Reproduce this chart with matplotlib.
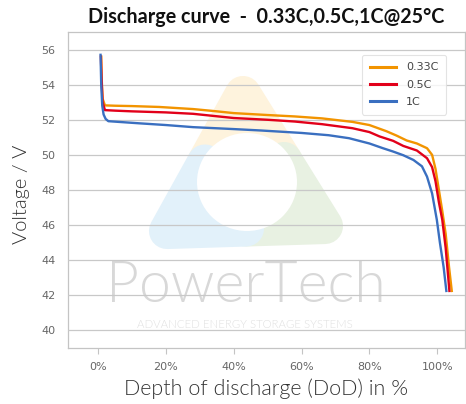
import matplotlib.pyplot as plt
from matplotlib.patches import Polygon, Ellipse

# data
dod_033 = [0.9, 1.0, 1.3, 2.0, 5, 10, 18, 28, 34, 40, 50, 58, 66, 75, 80, 85, 88, 91, 94, 97,
           98.5, 99.5, 100.5, 101.5, 102.5, 103.5, 104.3]
v_033 = [55.6, 54.5, 53.2, 52.82, 52.80, 52.78, 52.73, 52.61, 52.50, 52.38, 52.27, 52.19, 52.08,
         51.88, 51.70, 51.35, 51.10, 50.82, 50.65, 50.38, 50.0, 49.2, 48.0, 46.8, 45.5, 43.6, 42.25]
dod_05 = [0.8, 1.0, 1.3, 2.0, 5, 10, 20, 28, 34, 40, 50, 58, 66, 75, 80, 83, 87, 90, 94, 97,
          98.5, 99.5, 100.5, 101.5, 102.5, 103.6]
v_05 = [55.6, 54.3, 53.0, 52.55, 52.52, 52.48, 52.42, 52.34, 52.22, 52.10, 52.00, 51.90, 51.75,
        51.52, 51.30, 51.05, 50.80, 50.51, 50.25, 49.81, 49.3, 48.5, 47.3, 46.3, 44.7, 42.25]
dod_1 = [0.7, 0.9, 1.2, 1.6, 2.2, 3.0, 6, 12, 20, 28, 40, 48, 60, 68, 74, 80, 84, 87, 90, 93,
         95.5, 97, 98.5, 99.9, 100.8, 101.9, 102.7]
v_1 = [55.7, 54.0, 52.8, 52.3, 52.05, 51.92, 51.88, 51.80, 51.70, 51.58, 51.47, 51.39, 51.25,
       51.12, 50.95, 50.65, 50.38, 50.19, 49.98, 49.71, 49.35, 48.76, 47.8, 46.29, 45.0, 43.6, 42.25]
series = [('0.33C', dod_033, v_033, '#F29400'),
          ('0.5C', dod_05, v_05, '#E2001A'),
          ('1C', dod_1, v_1, '#3A6FC0')]
xticks = [0, 20, 40, 60, 80, 100]
yticks = [40, 42, 44, 46, 48, 50, 52, 54, 56]

W, H = 466, 404
fig = plt.figure(figsize=(W / 100, H / 100), dpi=100)
ax = fig.add_axes([68 / W, 1 - 348 / H, 397 / W, 316 / H])

# pale logo watermark (pixel coords -> figure coords)
def px(x, y):
    return (x / W, 1 - y / H)

top, bl, br, c = (243, 94), (167, 231), (325, 226), (247, 182)
m_l = ((top[0] + bl[0]) / 2, (top[1] + bl[1]) / 2)
m_r = ((top[0] + br[0]) / 2, (top[1] + br[1]) / 2)
m_b = ((bl[0] + br[0]) / 2, (bl[1] + br[1]) / 2)
for pts, col in [([c, m_l, top, m_r], '#FEF3DD'),
                 ([c, m_b, br, m_r], '#E8F1E2'),
                 ([c, m_l, bl, m_b], '#E2F1FA')]:
    fig.patches.append(Polygon([px(*p) for p in pts], closed=True, transform=fig.transFigure,
                               facecolor=col, edgecolor=col, lw=26, joinstyle='round', zorder=0.5))
fig.patches.append(Ellipse(px(*c), 100 / W, 98 / H, transform=fig.transFigure, facecolor='white',
                           edgecolor='none', zorder=0.6))
ax.set_zorder(1)
ax.patch.set_alpha(0)

fig.text(246 / W, 1 - 287 / H, 'PowerTech', fontsize=41, color='#D8D8D8', ha='center',
         va='center', family='Lato', fontweight=300, zorder=0.7)
fig.text(245 / W, 1 - 324 / H, 'ADVANCED ENERGY STORAGE SYSTEMS', fontsize=8.2, color='#E0E0E0',
         ha='center', va='center', family='Lato', fontweight=300, zorder=0.7)

for label, x, y, col in series:
    ax.plot(x, y, color=col, lw=1.7, label=label, zorder=3)

ax.set_xlim(-8.9, 108.2)
ax.set_ylim(39, 57)
ax.set_xticks(xticks)
ax.set_xticklabels([f'{t}%' for t in xticks])
ax.set_yticks(yticks)
ax.grid(axis='y', color='#C8C8C8', lw=0.9)
ax.set_axisbelow(False)
for s in ax.spines.values():
    s.set_color('#C4C4C4')
    s.set_linewidth(0.9)
ax.tick_params(axis='y', length=0, pad=9, labelsize=8, labelcolor='#666666')
ax.tick_params(axis='x', direction='out', length=4, color='#C4C4C4', pad=6, labelsize=8,
               labelcolor='#666666')

leg = ax.legend(loc='upper right', bbox_to_anchor=(0.967, 0.946), fontsize=8, frameon=True,
                handlelength=2.4, labelspacing=0.65, borderpad=0.7, handletextpad=0.9,
                fancybox=True)
leg.get_frame().set_edgecolor('#DDDDDD')
leg.get_frame().set_linewidth(0.8)
for t in leg.get_texts():
    t.set_color('#444444')
for h in leg.get_lines():
    h.set_linewidth(2.2)

fig.text(266 / W, 1 - 17 / H, 'Discharge curve  -  0.33C,0.5C,1C@25\u00b0C', fontsize=14.2,
         fontweight='bold', family='Lato', ha='center', va='center', color='#111111')
fig.text(266 / W, 1 - 389 / H, 'Depth of discharge (DoD) in %', fontsize=15.5, family='Lato',
         fontweight=300, ha='center', va='center', color='#333333')
fig.text(22 / W, 1 - 194 / H, 'Voltage / V', fontsize=14.5, family='Lato', fontweight=300,
         rotation=90, ha='center', va='center', color='#333333')

fig.savefig('out.png', dpi=100)
